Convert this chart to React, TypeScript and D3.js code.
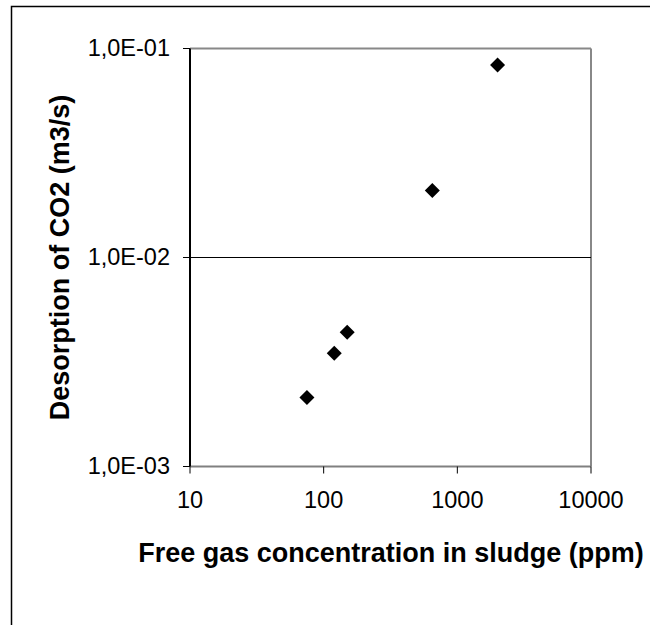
import React from "react";
import * as d3 from "d3";

const xValues = [75, 120, 150, 650, 2000];
const yValues = [0.00214, 0.00348, 0.00439, 0.0209, 0.0834];
const xTicks = [10, 100, 1000, 10000];
const yTicks = [0.001, 0.01, 0.1];
const yTickLabels = ["1,0E-03", "1,0E-02", "1,0E-01"];
const xTickLabels = ["10", "100", "1000", "10000"];
const xTitle = "Free gas concentration in sludge (ppm)";
const yTitle = "Desorption of CO2 (m3/s)";

const W = 650;
const H = 625;
const left = 190;
const right = 591;
const top = 48.5;
const bottom = 466.5;

export default function App() {
  const x = d3.scaleLog().domain([10, 10000]).range([left, right]);
  const y = d3.scaleLog().domain([0.001, 0.1]).range([bottom, top]);
  const font = "Arial, 'Liberation Sans', sans-serif";
  const diamond = (cx: number, cy: number, r: number) =>
    `M${cx},${cy - r}L${cx + r},${cy}L${cx},${cy + r}L${cx - r},${cy}Z`;

  return (
    <svg
      width={W}
      height={H}
      style={{ position: "absolute", left: 0, top: 0, background: "#fff" }}
      fontFamily={font}
    >
      <rect x={0} y={0} width={W} height={H} fill="#fff" />
      <rect x={11.5} y={6.5} width={W + 20} height={H + 20} fill="none" stroke="#000" strokeWidth={1.5} />
      {/* plot frame top & right */}
      <line x1={left} x2={right} y1={top} y2={top} stroke="#888" strokeWidth={2} />
      <line x1={right} x2={right} y1={top} y2={bottom} stroke="#888" strokeWidth={2} />
      {/* gridlines */}
      {yTicks.slice(1, -1).map((t) => (
        <line key={t} x1={left} x2={right} y1={y(t)} y2={y(t)} stroke="#000" strokeWidth={1} />
      ))}
      {/* bottom axis */}
      <line x1={left} x2={right} y1={bottom} y2={bottom} stroke="#808080" strokeWidth={2} />
      {xTicks.map((t) => (
        <line key={t} x1={x(t)} x2={x(t)} y1={bottom} y2={bottom + 7} stroke="#000" strokeWidth={1} />
      ))}
      {xTicks.map((t, i) => (
        <text key={t} x={x(t)} y={bottom + 41.5} textAnchor="middle" fontSize={23.5} fill="#000">
          {xTickLabels[i]}
        </text>
      ))}
      {/* left axis */}
      <line x1={left} x2={left} y1={top} y2={bottom} stroke="#000" strokeWidth={2} />
      {yTicks.map((t) => (
        <line key={t} x1={left - 7} x2={left} y1={y(t)} y2={y(t)} stroke="#000" strokeWidth={1} />
      ))}
      {yTicks.map((t, i) => (
        <text key={t} x={170} y={y(t) + 7} textAnchor="end" fontSize={23.5} fill="#000">
          {yTickLabels[i]}
        </text>
      ))}
      {/* points */}
      {xValues.map((v, i) => (
        <path key={i} d={diamond(x(v), y(yValues[i]), 7.5)} fill="#000" />
      ))}
      {/* titles */}
      <text x={391} y={562} textAnchor="middle" fontSize={27} fontWeight="bold" fill="#000">
        {xTitle}
      </text>
      <text
        transform={`translate(69, ${(top + bottom) / 2}) rotate(-90)`}
        textAnchor="middle"
        fontSize={27}
        fontWeight="bold"
        fill="#000"
      >
        {yTitle}
      </text>
    </svg>
  );
}
